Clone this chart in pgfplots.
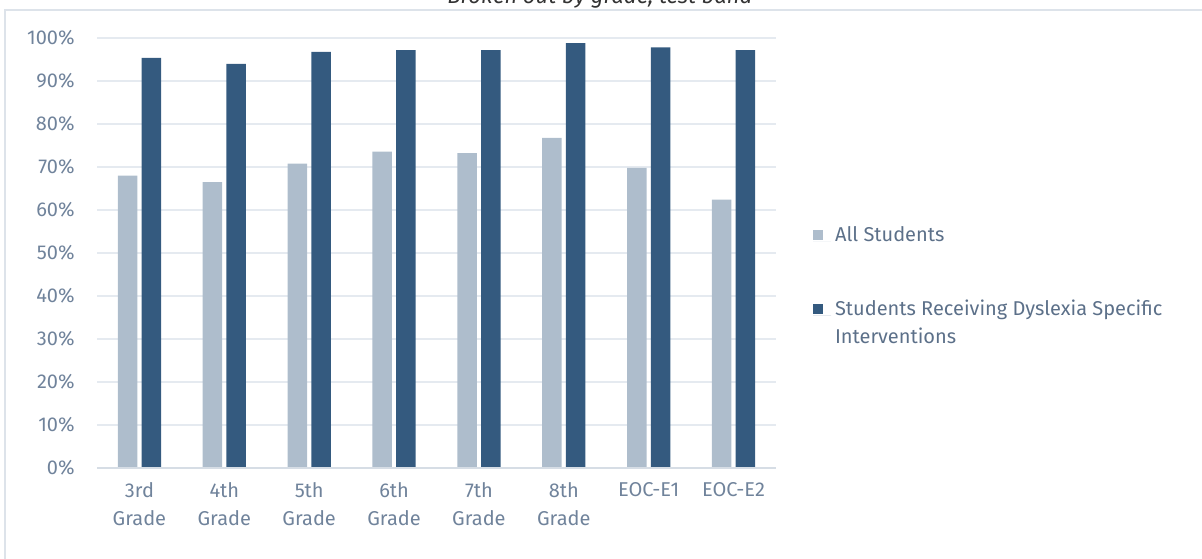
\documentclass[border=0pt]{standalone}
\usepackage{fontspec}
\setmainfont{Fira Sans}
\usepackage{pgfplots}
\pgfplotsset{compat=1.18}

\definecolor{allst}{RGB}{174,189,204}
\definecolor{dysl}{RGB}{52,90,127}
\definecolor{gridc}{RGB}{229,234,240}
\definecolor{basec}{RGB}{214,221,229}
\definecolor{framec}{RGB}{221,227,234}
\definecolor{labelc}{RGB}{112,131,155}
\definecolor{legc}{RGB}{92,112,137}

\pgfplotsset{
  sqlegend/.style={legend image code/.code={
    \fill[##1,draw=none] (0pt,0.5pt) rectangle (5pt,5.5pt);
    \path (0pt,0pt) -- (9pt,0pt);}},
}

\begin{document}
\begin{tikzpicture}[font=\fontsize{10}{12}\selectfont]
\path[use as bounding box] (0,0) rectangle (601pt,279pt);
\draw[framec, line width=1pt] (2.5pt,-5pt) -- (2.5pt,274pt) -- (610pt,274pt);
\node[anchor=base, font=\itshape\fontsize{11}{13}\selectfont, text=black!80] at (300pt,277pt) {Broken out by grade, test band};

\begin{axis}[
  at={(48.5pt,45pt)}, anchor=south west,
  scale only axis, width=339.5pt, height=215pt,
  ybar, bar width=0.23,
  xmin=-0.5, xmax=7.5, ymin=0, ymax=100,
  xtick={0,...,7},
  xticklabels={3rd\\Grade, 4th\\Grade, 5th\\Grade, 6th\\Grade, 7th\\Grade, 8th\\Grade, EOC-E1, EOC-E2},
  ytick={0,10,...,100},
  yticklabel={\pgfmathprintnumber{\tick}\%},
  /pgf/number format/assume math mode=true,
  major tick length=0pt,
  axis line style={draw=none},
  ymajorgrids, grid style={gridc, line width=1pt},
  tick label style={text=labelc, font=\fontsize{10}{14}\selectfont},
  yticklabel style={anchor=east, inner sep=0pt, xshift=-11pt},
  xticklabel style={anchor=north, align=center, inner sep=0pt, yshift=-7pt},
  legend style={at={(1.054,0.572)}, anchor=north west, draw=none, fill=none,
    inner sep=0pt, row sep=21.5pt, text=legc,
    font=\fontsize{10}{14}\selectfont,
    cells={anchor=base west}},
]
\addplot[fill=allst, draw=none, bar shift=-0.14, sqlegend] coordinates {
  (0,68.0) (1,66.5) (2,70.8) (3,73.6) (4,73.2) (5,76.8) (6,69.8) (7,62.4)
};
\addlegendentry{All Students}
\addplot[fill=dysl, draw=none, bar shift=0.14, sqlegend] coordinates {
  (0,95.4) (1,94.0) (2,96.8) (3,97.2) (4,97.2) (5,98.8) (6,97.8) (7,97.2)
};
\addlegendentry{\begin{tabular}[t]{@{}l@{}}Students Receiving Dyslexia Specific\\Interventions\end{tabular}}
\draw[basec, line width=1pt] (rel axis cs:0,0) -- (rel axis cs:1,0);
\end{axis}
\end{tikzpicture}
\end{document}
